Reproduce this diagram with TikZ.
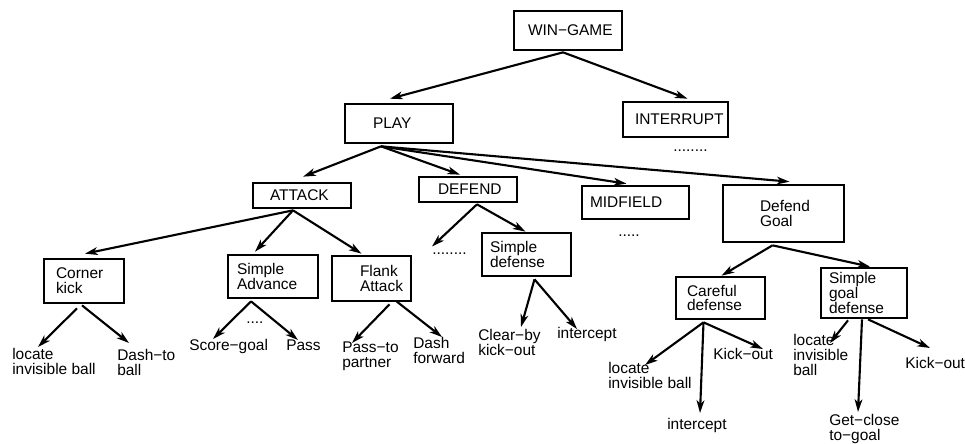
\documentclass[tikz,border=0pt]{standalone}
\usepackage{fontspec}
\setmainfont{Liberation Sans}
\usetikzlibrary{arrows.meta,calc}
\tikzset{
  box/.style n args={3}{draw, line width=1.9pt, inner ysep=0pt, align=left,
    /utils/exec={\pgfmathsetlengthmacro\boxtw{(#1-2*#3)*0.025cm}},
    text width=\boxtw, inner xsep=#3*0.025cm,
    minimum width=#1*0.025cm, minimum height=#2*0.025cm},
  leaf/.style={anchor=north west, inner sep=0pt, align=left},
  more/.style={anchor=base west, inner sep=0pt},
  arr/.style={line width=1.5pt, -{Stealth[length=9pt,width=5.5pt,inset=2.5pt]}}
}
\begin{document}
\begin{tikzpicture}[x=0.025cm, y=-0.025cm, font=\fontsize{11}{10.5}\selectfont]
%\draw [help lines] (0,0) grid [step=50] (965,443);
\useasboundingbox (0,0) rectangle (965,443);
\node [box={108}{39}{14}] (win) at (568,30.5) {WIN−GAME};
\node [box={108}{39}{28}] (play) at (399,123.5) {PLAY};
\node [box={105}{35}{12}] (interrupt) at (675.5,119.5) {INTERRUPT};
\node [more] (more1) at (673,151) {........};
\node [box={98}{25}{17}] (attack) at (302,195.5) {ATTACK};
\node [box={98}{25}{19}] (defend) at (468,189.5) {DEFEND};
\node [box={107}{33}{8}] (midfield) at (635.5,202.5) {MIDFIELD};
\node [more] (more3) at (618,236.5) {.....};
\node [box={121}{57}{37}] (dgoal) at (783.5,213.5) {Defend\\Goal};
\node [box={80}{44}{12}] (corner) at (84,281) {Corner\\kick};
\node [box={90}{43}{9}] (sadv) at (273,276.5) {Simple\\Advance};
\node [box={79}{45}{28}] (flank) at (371.5,278.5) {Flank\\Attack};
\node [more] (more2) at (432,254.5) {........};
\node [box={89}{43}{8}] (sdef) at (526.5,254.5) {Simple\\defense};
\node [box={89}{42}{11}] (careful) at (720.5,298) {Careful\\defense};
\node [box={86}{50}{8}] (sgoal) at (864,293) {Simple\\goal\\defense};
\node [more] (more4) at (246,323.5) {....};
% leaves
\node [leaf] (lc1) at (12,348) {locate\\invisible ball};
\node [leaf] (dash1) at (117,349) {Dash−to\\ball};
\node [leaf] (score) at (189,339) {Score−goal};
\node [leaf] (pass) at (286,340) {Pass};
\node [leaf] (passto) at (342,342) {Pass−to\\partner};
\node [leaf] (dashf) at (413,337) {Dash\\forward};
\node [leaf] (clear) at (478,329) {Clear−by\\kick−out};
\node [leaf] (icpt1) at (557,327) {intercept};
\node [leaf] (lc2) at (608,362) {locate\\invisible ball};
\node [leaf] (icpt2) at (667,418) {intercept};
\node [leaf] (kick1) at (713,348) {Kick−out};
\node [leaf] (lc3) at (793,334) {locate\\invisible\\ball};
\node [leaf] (close) at (829,414) {Get−close\\to−goal};
\node [leaf] (kick2) at (905,357) {Kick−out};

\draw [arr] ($(win.south)+(-5,1)$) -- ($(play.north)+(-9,-4)$);
\draw [arr] ($(win.south)+(-5,1)$) -- ($(interrupt.north)+(12,-2)$);
\draw [arr] ($(play.south)+(-18,2)$) -- ($(attack.north)+(1,-5)$);
\draw [arr] ($(play.south)+(-18,2)$) -- ($(defend.north)+(-8,-1)$);
\draw [arr] ($(play.south)+(-18,2)$) -- ($(midfield.north)+(-9,-1)$);
\draw [arr] ($(play.south)+(-18,2)$) -- ($(dgoal.north)+(6,-2)$);
\draw [arr] ($(attack.south)+(-9,1)$) -- ($(corner.north)+(1,-4)$);
\draw [arr] ($(attack.south)+(-9,1)$) -- ($(sadv.north)+(-18,-2)$);
\draw [arr] ($(attack.south)+(-9,1)$) -- ($(flank.north)+(-10,-1)$);
\draw [arr] ($(defend.south)+(9,1)$) -- ($(more2.base west)+(0,-8)$);
\draw [arr] ($(defend.south)+(9,1)$) -- ($(sdef.north)+(-1,0)$);
\draw [arr] ($(dgoal.south)+(-11,2)$) -- ($(careful.north)+(1,0)$);
\draw [arr] ($(dgoal.south)+(-11,2)$) -- ($(sgoal.north)+(6,0)$);
\draw [arr] ($(corner.south)+(-7,4)$) -- ($(lc1.north west)+(26,-1)$);
\draw [arr] ($(corner.south)+(-2,1)$) -- ($(dash1.north west)+(12,-6)$);
\draw [arr] ($(sadv.south)+(-22,2)$) -- ($(score.north west)+(24,0)$);
\draw [arr] ($(sadv.south)+(-22,2)$) -- ($(pass.north west)+(12,0)$);
\draw [arr] ($(flank.south)+(18,2)$) -- ($(passto.north west)+(10,1)$);
\draw [arr] ($(flank.south)+(25,-1)$) -- ($(dashf.north west)+(29,0)$);
\draw [arr] ($(sdef.south)+(8,2)$) -- ($(clear.north west)+(43,-2)$);
\draw [arr] ($(sdef.south)+(8,2)$) -- ($(icpt1.north west)+(20,2)$);
\draw [arr] ($(careful.south)+(-17,2)$) -- ($(lc2.north west)+(37,3)$);
\draw [arr] ($(careful.south)+(-17,2)$) -- ($(icpt2.north west)+(33,-5)$);
\draw [arr] ($(careful.south)+(-17,2)$) -- ($(kick1.north west)+(50,1)$);
\draw [arr] ($(sgoal.south)+(-16,1)$) -- ($(lc3.north west)+(37,9)$);
\draw [arr] ($(sgoal.south)+(-2,0)$) -- ($(close.north west)+(29,-2)$);
\draw [arr] ($(sgoal.south)+(4,0)$) -- ($(kick2.north west)+(25,-9)$);
\end{tikzpicture}
\end{document}
